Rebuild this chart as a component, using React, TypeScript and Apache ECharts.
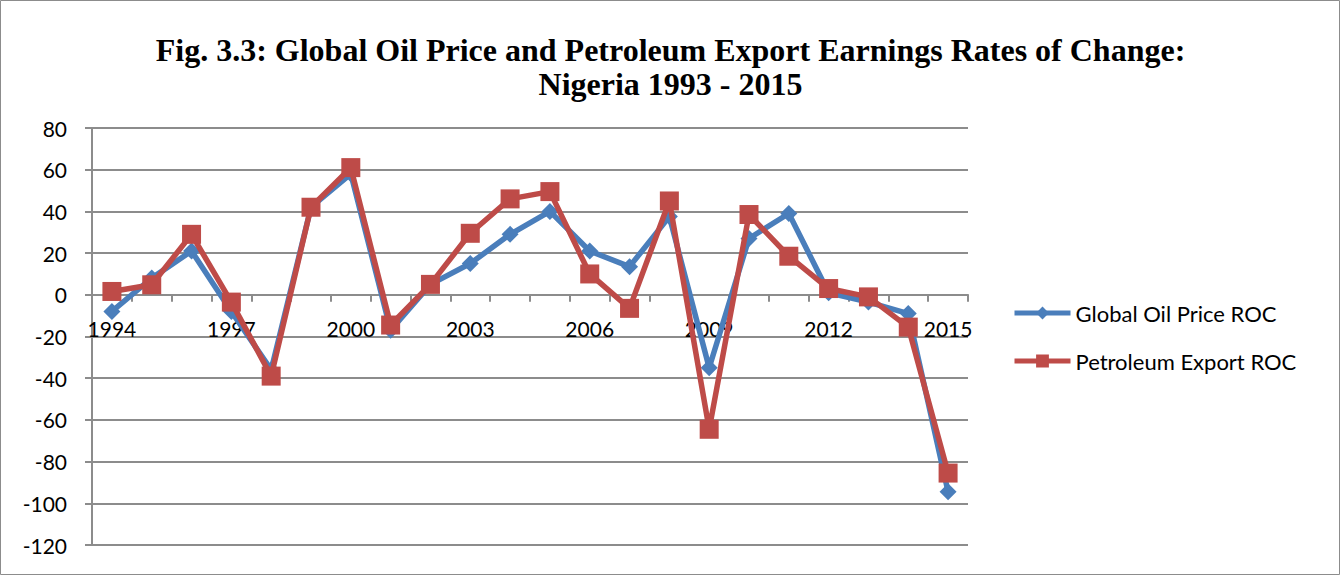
import React, { useEffect, useRef } from "react";
import * as echarts from "echarts";

const years = ["1994","1995","1996","1997","1998","1999","2000","2001","2002","2003","2004","2005","2006","2007","2008","2009","2010","2011","2012","2013","2014","2015"];
const globalOilPriceROC = [-8, 8, 21, -8, -36, 42, 58, -17, 5, 15, 29, 40, 21, 13.5, 37.5, -35, 27, 39, 1, -3.5, -9, -94.5];
const petroleumExportROC = [1.6, 4.8, 29, -3.5, -39, 42, 61, -14.5, 5, 29.5, 46, 49.5, 10, -6.5, 45, -64.5, 38.5, 18.5, 3, -1, -15.5, -85.5];
const yMin = -120;
const yMax = 80;
const yStep = 20;

const BLUE = "#4A7EBB";
const RED = "#BE4B48";
const FONT = "Lato";
const GRID_TOP = 128;
const GRID_BOTTOM = 31;
const H = 576;

export default function App() {
  const ref = useRef<HTMLDivElement>(null);
  useEffect(() => {
    document.body.style.margin = "0";
    const chart = echarts.init(ref.current!, null, { renderer: "svg" });
    const plotH = H - GRID_TOP - GRID_BOTTOM;
    const zeroOffset = -plotH * (0 - yMin) / (yMax - yMin);
    chart.setOption({
      animation: false,
      backgroundColor: "#fff",
      title: {
        text: "Fig. 3.3: Global Oil Price and Petroleum Export Earnings Rates of Change:\nNigeria 1993 - 2015",
        left: "center",
        top: 28,
        textStyle: {
          fontFamily: "Liberation Serif",
          fontWeight: "bold",
          fontSize: 32,
          lineHeight: 34,
          color: "#000",
        },
      },
      graphic: [
        {
          type: "rect",
          shape: { x: 0.5, y: 0.5, width: 1339, height: 574 },
          style: { fill: "none", stroke: "#8c8c8c", lineWidth: 1 },
          silent: true,
        },
      ],
      legend: {
        orient: "vertical",
        left: 1007,
        top: 297,
        itemWidth: 56,
        itemHeight: 16,
        itemGap: 26,
        lineStyle: { width: 5 },
        textStyle: { fontFamily: FONT, fontSize: 22, color: "#000" },
        data: ["Global Oil Price ROC", "Petroleum Export ROC"],
      },
      grid: { left: 92, right: 373, top: GRID_TOP, bottom: GRID_BOTTOM, containLabel: false },
      xAxis: {
        type: "category",
        data: years,
        boundaryGap: true,
        offset: zeroOffset,
        axisLine: { onZero: false, lineStyle: { color: "#8c8c8c", width: 2 } },
        axisTick: { show: true, interval: 0, length: 7, inside: false, lineStyle: { color: "#8c8c8c", width: 2 } },
        axisLabel: { interval: 2, margin: 23, fontFamily: FONT, fontSize: 21, color: "#000" },
        splitLine: { show: false },
      },
      yAxis: {
        type: "value",
        min: yMin,
        max: yMax,
        interval: yStep,
        axisLine: { show: true, lineStyle: { color: "#8c8c8c", width: 2 } },
        axisTick: { show: true, length: 7, lineStyle: { color: "#8c8c8c", width: 2 } },
        axisLabel: { margin: 25, fontFamily: FONT, fontSize: 21, color: "#000" },
        splitLine: { show: true, lineStyle: { color: "#8c8c8c", width: 2 } },
      },
      series: [
        {
          name: "Global Oil Price ROC",
          type: "line",
          data: globalOilPriceROC,
          symbol: "diamond",
          symbolSize: 17,
          lineStyle: { color: BLUE, width: 5.5 },
          itemStyle: { color: BLUE },
          z: 2,
        },
        {
          name: "Petroleum Export ROC",
          type: "line",
          data: petroleumExportROC,
          symbol: "rect",
          symbolSize: 19,
          lineStyle: { color: RED, width: 5.5 },
          itemStyle: { color: RED },
          z: 3,
        },
      ],
    });
    return () => chart.dispose();
  }, []);
  return <div ref={ref} style={{ width: 1341, height: 576 }} />;
}
